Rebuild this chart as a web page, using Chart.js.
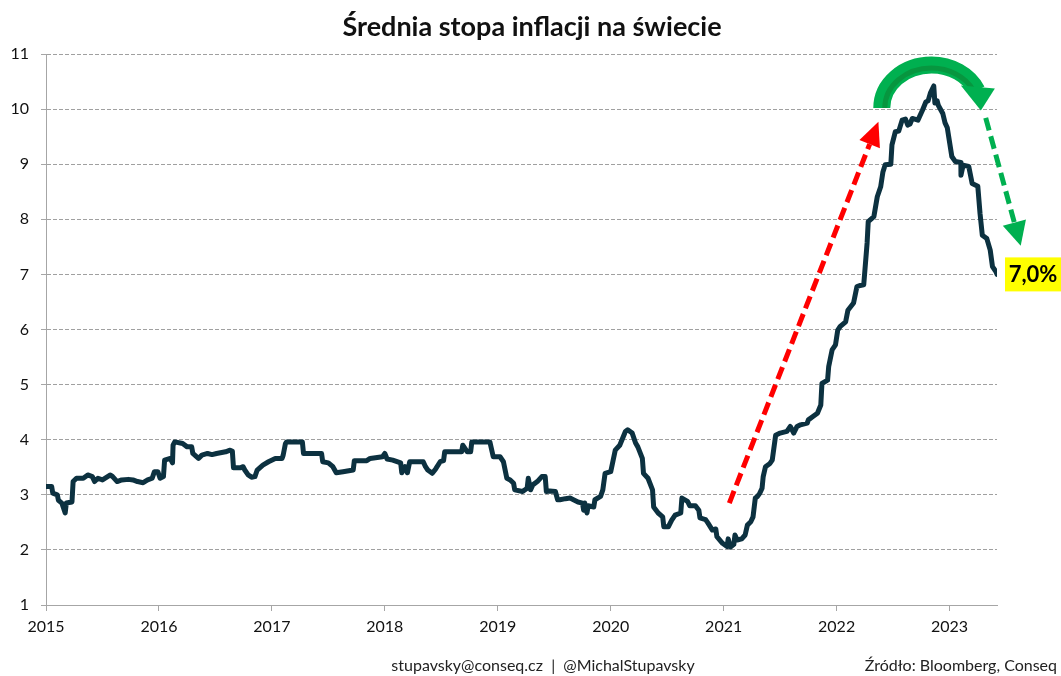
<!DOCTYPE html>
<html>
<head>
<meta charset="utf-8">
<script src="https://cdn.jsdelivr.net/npm/chart.js@4.4.1/dist/chart.umd.min.js"></script>
<style>
  html, body { margin: 0; padding: 0; background: #fff; }
  #wrap { position: relative; width: 1061px; height: 676px; }
</style>
</head>
<body>
<div id="wrap"><canvas id="inflChart"></canvas></div>
<script>
// values (decimal year, % y/y)
const years = [
  2015.00, 2015.05, 2015.06, 2015.10, 2015.11, 2015.14, 2015.17, 2015.18, 2015.23, 2015.24,
  2015.27, 2015.33, 2015.37, 2015.41, 2015.43, 2015.46, 2015.50, 2015.57, 2015.59, 2015.63,
  2015.67, 2015.73, 2015.77, 2015.81, 2015.86, 2015.90, 2015.94, 2015.96, 2015.99, 2016.01,
  2016.04, 2016.05, 2016.10, 2016.12, 2016.125, 2016.14, 2016.21, 2016.25, 2016.29, 2016.30,
  2016.35, 2016.38, 2016.43, 2016.47, 2016.51, 2016.59, 2016.63, 2016.65, 2016.66, 2016.72,
  2016.745, 2016.76, 2016.79, 2016.82, 2016.85, 2016.87, 2016.92, 2016.97, 2017.03, 2017.09,
  2017.10, 2017.12, 2017.13, 2017.27, 2017.28, 2017.44, 2017.45, 2017.50, 2017.54, 2017.57,
  2017.63, 2017.72, 2017.73, 2017.84, 2017.87, 2017.98, 2018.00, 2018.02, 2018.07, 2018.14,
  2018.15, 2018.18, 2018.20, 2018.22, 2018.34, 2018.36, 2018.38, 2018.42, 2018.45, 2018.49,
  2018.52, 2018.53, 2018.68, 2018.69, 2018.73, 2018.76, 2018.77, 2018.93, 2018.96, 2019.02,
  2019.05, 2019.08, 2019.11, 2019.14, 2019.15, 2019.22, 2019.26, 2019.27, 2019.29, 2019.31,
  2019.35, 2019.39, 2019.42, 2019.43, 2019.46, 2019.51, 2019.53, 2019.55, 2019.60, 2019.64,
  2019.67, 2019.71, 2019.75, 2019.76, 2019.77, 2019.79, 2019.80, 2019.85, 2019.86, 2019.91,
  2019.93, 2019.95, 2020.00, 2020.04, 2020.08, 2020.13, 2020.15, 2020.19, 2020.22, 2020.24,
  2020.28, 2020.29, 2020.33, 2020.37, 2020.38, 2020.42, 2020.46, 2020.47, 2020.51, 2020.54,
  2020.57, 2020.62, 2020.63, 2020.68, 2020.70, 2020.75, 2020.78, 2020.79, 2020.84, 2020.86,
  2020.90, 2020.93, 2020.94, 2020.99, 2021.03, 2021.04, 2021.06, 2021.09, 2021.10, 2021.12,
  2021.16, 2021.19, 2021.21, 2021.24, 2021.26, 2021.28, 2021.30, 2021.32, 2021.34, 2021.35,
  2021.37, 2021.41, 2021.43, 2021.46, 2021.50, 2021.56, 2021.59, 2021.62, 2021.65, 2021.68,
  2021.74, 2021.75, 2021.79, 2021.83, 2021.86, 2021.87, 2021.92, 2021.93, 2021.96, 2021.99,
  2022.01, 2022.03, 2022.08, 2022.10, 2022.15, 2022.18, 2022.21, 2022.24, 2022.27, 2022.28,
  2022.33, 2022.36, 2022.39, 2022.41, 2022.43, 2022.48, 2022.49, 2022.52, 2022.55, 2022.58,
  2022.61, 2022.63, 2022.65, 2022.67, 2022.72, 2022.76, 2022.79, 2022.81, 2022.83, 2022.86,
  2022.87, 2022.89, 2022.90, 2022.94, 2022.96, 2022.98, 2023.02, 2023.05, 2023.10, 2023.101,
  2023.12, 2023.17, 2023.20, 2023.25, 2023.27, 2023.29, 2023.33, 2023.36, 2023.38, 2023.41,
  2023.42
];
const inflation = [
  3.15, 3.15, 3.03, 3.00, 2.90, 2.85, 2.67, 2.85, 2.87, 3.24,
  3.30, 3.30, 3.36, 3.33, 3.24, 3.30, 3.27, 3.36, 3.33, 3.24,
  3.27, 3.28, 3.27, 3.24, 3.22, 3.27, 3.30, 3.42, 3.42, 3.30,
  3.33, 3.63, 3.66, 3.58, 3.90, 3.96, 3.93, 3.87, 3.87, 3.75,
  3.66, 3.72, 3.75, 3.73, 3.75, 3.78, 3.81, 3.79, 3.49, 3.49,
  3.51, 3.45, 3.36, 3.32, 3.33, 3.45, 3.54, 3.60, 3.66, 3.66,
  3.72, 3.93, 3.96, 3.96, 3.75, 3.75, 3.60, 3.58, 3.51, 3.40,
  3.42, 3.45, 3.62, 3.62, 3.66, 3.69, 3.75, 3.65, 3.63, 3.58,
  3.40, 3.51, 3.40, 3.60, 3.60, 3.51, 3.45, 3.39, 3.47, 3.60,
  3.62, 3.78, 3.78, 3.90, 3.78, 3.78, 3.96, 3.96, 3.69, 3.69,
  3.60, 3.30, 3.27, 3.21, 3.09, 3.06, 3.12, 3.30, 3.09, 3.18,
  3.24, 3.33, 3.33, 3.06, 3.07, 3.06, 2.91, 2.91, 2.93, 2.94,
  2.91, 2.87, 2.85, 2.72, 2.85, 2.67, 2.80, 2.78, 2.91, 2.97,
  3.09, 3.39, 3.42, 3.81, 3.90, 4.15, 4.18, 4.12, 3.94, 3.87,
  3.66, 3.39, 3.30, 3.09, 2.78, 2.67, 2.60, 2.42, 2.42, 2.54,
  2.63, 2.67, 2.94, 2.88, 2.80, 2.80, 2.72, 2.58, 2.55, 2.49,
  2.36, 2.38, 2.24, 2.12, 2.06, 2.20, 2.05, 2.10, 2.27, 2.18,
  2.20, 2.27, 2.45, 2.51, 2.60, 2.94, 2.97, 3.03, 3.12, 3.33,
  3.51, 3.57, 3.63, 4.08, 4.12, 4.15, 4.24, 4.12, 4.24, 4.27,
  4.30, 4.36, 4.42, 4.48, 4.63, 5.02, 5.08, 5.33, 5.63, 5.72,
  5.99, 6.05, 6.14, 6.35, 6.48, 6.78, 6.80, 6.81, 7.57, 7.96,
  8.05, 8.41, 8.59, 8.86, 8.99, 9.00, 9.35, 9.59, 9.60, 9.80,
  9.82, 9.71, 9.73, 9.83, 9.80, 9.98, 10.13, 10.15, 10.29, 10.42,
  10.11, 10.15, 10.07, 9.92, 9.75, 9.66, 9.14, 9.05, 9.03, 8.80,
  8.98, 8.96, 8.65, 8.60, 8.10, 7.71, 7.65, 7.44, 7.14, 7.05,
  7.00
];
const yearTicks = [2015, 2016, 2017, 2018, 2019, 2020, 2021, 2022, 2023];
const lastLabel = '7,0%';
const titleText = 'Średnia stopa inflacji na świecie';
const footerLeft = 'stupavsky@conseq.cz  |  @MichalStupavsky';
const footerRight = 'Źródło: Bloomberg, Conseq';

// arrows in data units: [xFrom, yFrom, xTo, yTo]
const redArrow = [2021.05, 2.85, 2022.37, 9.77];
const greenArrow = [2023.32, 9.84, 2023.63, 7.52];
// curved arrow: centre (x, y) and radii (years, pct points)
const curve = { x: 2022.84, y: 10.02, rx: 0.44, ry: 0.78 };

const FONT = 'Lato, "Open Sans", sans-serif';
const LINE = '#0c3140';
const RED = '#ff0000';
const GREEN = '#00b050';

function arrow(ctx, x1, y1, x2, y2, color, headLen, headW) {
  const ang = Math.atan2(y2 - y1, x2 - x1);
  const bx = x2 - Math.cos(ang) * headLen, by = y2 - Math.sin(ang) * headLen;
  ctx.save();
  ctx.strokeStyle = color; ctx.lineWidth = 5; ctx.setLineDash([13, 6]);
  ctx.beginPath(); ctx.moveTo(x1, y1); ctx.lineTo(bx, by); ctx.stroke();
  ctx.setLineDash([]);
  ctx.fillStyle = color;
  ctx.beginPath();
  ctx.moveTo(x2, y2);
  ctx.lineTo(bx + Math.sin(ang) * headW, by - Math.cos(ang) * headW);
  ctx.lineTo(bx - Math.sin(ang) * headW, by + Math.cos(ang) * headW);
  ctx.closePath(); ctx.fill();
  ctx.restore();
}

const decorPlugin = {
  id: 'decor',
  afterDatasetsDraw(chart) {
    const { ctx, scales: { x, y } } = chart;
    // red dashed arrow
    arrow(ctx, x.getPixelForValue(redArrow[0]), y.getPixelForValue(redArrow[1]),
      x.getPixelForValue(redArrow[2]), y.getPixelForValue(redArrow[3]), RED, 24, 11);
    // green dashed arrow
    arrow(ctx, x.getPixelForValue(greenArrow[0]), y.getPixelForValue(greenArrow[1]),
      x.getPixelForValue(greenArrow[2]), y.getPixelForValue(greenArrow[3]), GREEN, 24, 12);

    // curved green arrow over the peak
    const cx = x.getPixelForValue(curve.x), cy = y.getPixelForValue(curve.y);
    const rx = x.getPixelForValue(curve.x + curve.rx) - cx;
    const ry = cy - y.getPixelForValue(curve.y + curve.ry);
    const endA = -0.42;
    ctx.save();
    ctx.lineCap = 'butt';
    ctx.strokeStyle = GREEN; ctx.lineWidth = 17;
    ctx.beginPath(); ctx.ellipse(cx, cy, rx, ry, 0, Math.PI, endA); ctx.stroke();
    ctx.strokeStyle = '#07963f'; ctx.lineWidth = 5;
    ctx.beginPath(); ctx.ellipse(cx, cy, rx - 3, ry - 3, 0, Math.PI, endA - 0.05); ctx.stroke();
    // head
    const ex = cx + rx * Math.cos(endA), ey = cy + ry * Math.sin(endA);
    ctx.fillStyle = GREEN;
    ctx.beginPath();
    ctx.moveTo(ex - 16, ey - 5);
    ctx.lineTo(ex + 18, ey - 2);
    ctx.lineTo(ex + 4, ey + 20);
    ctx.closePath(); ctx.fill();
    ctx.restore();

    // yellow end label
    const lx = x.getPixelForValue(years[years.length - 1]);
    const ly = y.getPixelForValue(inflation[inflation.length - 1]);
    ctx.save();
    ctx.fillStyle = '#ffff00';
    ctx.fillRect(lx + 8, ly - 17, 56, 34);
    ctx.fillStyle = '#000';
    ctx.font = 'bold 22px ' + FONT;
    ctx.textAlign = 'center'; ctx.textBaseline = 'middle';
    ctx.fillText(lastLabel, lx + 8 + 28, ly + 1);
    ctx.restore();
  },
  afterDraw(chart) {
    const ctx = chart.ctx;
    ctx.save();
    ctx.fillStyle = '#111';
    ctx.font = 'bold 27px ' + FONT;
    ctx.textAlign = 'center'; ctx.textBaseline = 'middle';
    ctx.fillText(titleText, 532, 27);
    ctx.font = '16px ' + FONT;
    ctx.fillStyle = '#222';
    ctx.fillText(footerLeft, 543, 666);
    ctx.textAlign = 'right';
    ctx.fillText(footerRight, 1057, 666);
    ctx.restore();
  }
};

new Chart(document.getElementById('inflChart'), {
  type: 'line',
  data: {
    datasets: [{
      label: 'Inflacja',
      data: years.map((yr, i) => ({ x: yr, y: inflation[i] })),
      borderColor: LINE,
      borderWidth: 5,
      borderJoinStyle: 'round',
      borderCapStyle: 'round',
      pointRadius: 0,
      tension: 0
    }]
  },
  options: {
    responsive: true,
    maintainAspectRatio: false,
    animation: false,
    layout: { padding: { top: 54, right: 64, left: 0, bottom: 0 } },
    plugins: { legend: { display: false }, title: { display: false }, tooltip: { enabled: false } },
    scales: {
      x: {
        type: 'linear', min: 2015, max: 2023.42,
        afterBuildTicks: s => { s.ticks = yearTicks.map(v => ({ value: v })); },
        afterFit: s => { s.height = 71; },
        border: { color: '#a6a6a6', width: 1 },
        grid: { drawOnChartArea: false, color: '#a6a6a6', tickLength: 6 },
        ticks: { color: '#111', font: { family: FONT, size: 16 }, padding: 6, maxRotation: 0,
          callback: v => String(v) }
      },
      y: {
        min: 1, max: 11,
        afterFit: s => { s.width = 46; },
        border: { color: '#a6a6a6', width: 1, dash: [4, 2] },
        grid: { color: '#a0a0a0', tickBorderDash: [], tickColor: '#a6a6a6', tickLength: 5 },
        ticks: { stepSize: 1, color: '#111', font: { family: FONT, size: 16 }, padding: 12 }
      }
    }
  },
  plugins: [decorPlugin]
});
</script>
</body>
</html>
